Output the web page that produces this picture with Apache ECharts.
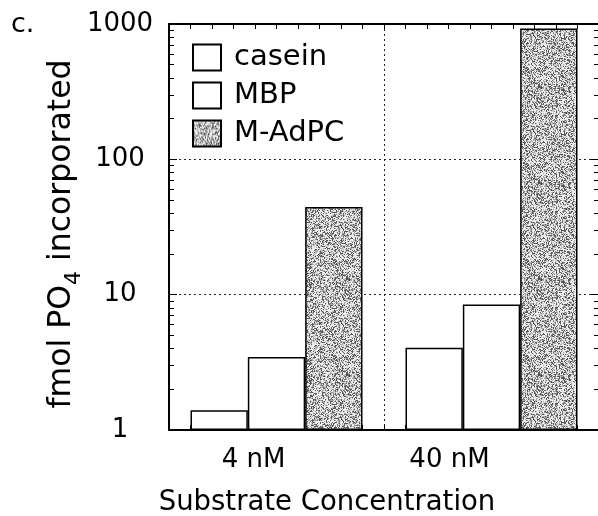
<!DOCTYPE html>
<html>
<head>
<meta charset="utf-8">
<script src="https://cdn.jsdelivr.net/npm/echarts@6/dist/echarts.min.js"></script>
<style>
html,body{margin:0;padding:0;background:#fff;}
#c{width:598px;height:516px;}
</style>
</head>
<body>
<div id="c"></div>
<script>
// ---- data ----
var categories = ['4 nM', '40 nM'];
var seriesNames = ['casein', 'MBP', 'M-AdPC'];
var caseinValues = [1.40, 4.05];
var mbpValues = [3.46, 8.47];
var madpcValues = [44.5, 926];
var yTickLabels = ['1', '10', '100', '1000'];

// ---- stipple texture (style only) ----
function makeStipple() {
  var cv = document.createElement('canvas');
  cv.width = 96; cv.height = 96;
  var ctx = cv.getContext('2d');
  var img = ctx.createImageData(96, 96);
  for (var i = 0; i < 96 * 96; i++) {
    var h = Math.sin(i * 12.9898 + 78.233) * 43758.5453;
    h = h - Math.floor(h);
    var v = h < 0.26 ? 90 : (h < 0.52 ? 170 : 235);
    img.data[i * 4] = v; img.data[i * 4 + 1] = v; img.data[i * 4 + 2] = v; img.data[i * 4 + 3] = 255;
  }
  ctx.putImageData(img, 0, 0);
  return cv;
}
var stipple = makeStipple();

var FONT = 'DejaVu Sans';
var labelOffsets = [46, 84];
var GL = 169, GT = 24, GW = 430, GH = 406;

var chart = echarts.init(document.getElementById('c'), null, {renderer: 'canvas'});

var barBase = {
  type: 'bar',
  xAxisIndex: 0,
  yAxisIndex: 0,
  barGap: '0%',
  barCategoryGap: '20%',
  z: 3
};

function g(left, top, width, height) {
  return {left: left, top: top, width: width, height: height, containLabel: false, outerBoundsMode: 'none'};
}
function hiddenAxis(gridIndex) {
  return {type: 'value', gridIndex: gridIndex, show: false, min: 0, max: 1, axisLine: {onZero: false}};
}
function tickX(gridIndex, position, lineW) {
  return {
    type: 'value', gridIndex: gridIndex, min: 0, max: 20, interval: 1, position: position,
    axisLine: {show: true, onZero: false, lineStyle: {color: '#000', width: lineW}},
    axisLabel: {show: false}, splitLine: {show: false},
    axisTick: {show: true, inside: false, length: 5, lineStyle: {color: '#000', width: 1}}
  };
}
function tickY(gridIndex, position) {
  return {
    type: 'log', logBase: 10, min: 1, max: 1000, gridIndex: gridIndex, position: position,
    axisLine: {show: false, onZero: false},
    axisTick: {show: true, inside: false, length: 8, lineStyle: {color: '#000', width: 1}},
    minorTick: {show: true, splitNumber: 9, length: 5, lineStyle: {color: '#000', width: 1}},
    splitLine: {show: false},
    axisLabel: {show: false}
  };
}

var option = {
  backgroundColor: '#fff',
  animation: false,
  title: {
    text: 'c.',
    left: 6,
    top: 6,
    textStyle: {fontFamily: FONT, fontSize: 27, fontWeight: 'normal', color: '#000'}
  },
  legend: {
    orient: 'vertical',
    left: 192,
    top: 43,
    padding: 0,
    itemWidth: 28,
    itemHeight: 26,
    itemGap: 9,
    icon: 'rect',
    data: seriesNames,
    textStyle: {fontFamily: FONT, fontSize: 29, color: '#000', padding: [0, 0, 0, 8]}
  },
  grid: [
    g(GL, GT, GW, GH),          // 0 main
    g(GL - 60, GT, 60, GH),     // 1 left inward ticks (axis on its right edge)
    g(GL + GW, GT, 60, GH),     // 2 right inward ticks (axis on its left edge)
    g(GL, GT + GH, GW, 40),     // 3 bottom inward ticks (axis on its top edge)
    g(GL, 0, GW, GT)            // 4 top inward ticks (axis on its bottom edge)
  ],
  xAxis: [
    {
      type: 'category',
      gridIndex: 0,
      data: categories,
      position: 'bottom',
      axisLine: {show: true, lineStyle: {color: '#000', width: 2}},
      axisTick: {show: false},
      splitLine: {show: true, lineStyle: {color: '#222', width: 1, type: [2, 3]}},
      axisLabel: {
        margin: 17,
        fontFamily: FONT,
        fontSize: 26,
        color: '#000',
        formatter: function (v, i) { return '{l' + i + '|' + v + '}'; },
        rich: {
          l0: {fontFamily: FONT, fontSize: 26, color: '#000', padding: [0, labelOffsets[0], 0, 0]},
          l1: {fontFamily: FONT, fontSize: 26, color: '#000', padding: [0, labelOffsets[1], 0, 0]}
        }
      },
      name: 'Substrate Concentration',
      nameLocation: 'middle',
      nameGap: 59,
      nameMoveOverlap: false,
      nameTextStyle: {fontFamily: FONT, fontSize: 27.5, color: '#000', padding: [0, 114, 0, 0]}
    },
    hiddenAxis(1),
    hiddenAxis(2),
    tickX(3, 'top', 0),
    tickX(4, 'bottom', 2)
  ],
  yAxis: [
    {
      type: 'log',
      gridIndex: 0,
      logBase: 10,
      min: 1,
      max: 1000,
      position: 'left',
      axisLine: {show: true, lineStyle: {color: '#000', width: 2}},
      axisTick: {show: false},
      minorTick: {show: false},
      splitLine: {show: true, lineStyle: {color: '#222', width: 1, type: [2, 3]}},
      axisLabel: {
        margin: 49,
        align: 'center',
        fontFamily: FONT,
        fontSize: 26,
        color: '#000',
        formatter: function (v) {
          var idx = Math.round(Math.log10(v));
          return yTickLabels[idx] !== undefined ? yTickLabels[idx] : '';
        }
      },
      name: '{a|fmol PO}{s|4}{a| incorporated}',
      nameLocation: 'middle',
      nameGap: 84,
      nameMoveOverlap: false,
      nameTextStyle: {
        fontFamily: FONT, fontSize: 31.5, color: '#000',
        padding: [0, 14, 0, 0],
        rich: {
          a: {fontFamily: FONT, fontSize: 31.5, color: '#000', lineHeight: 46, verticalAlign: 'middle'},
          s: {fontFamily: FONT, fontSize: 22, color: '#000', lineHeight: 20, verticalAlign: 'bottom'}
        }
      }
    },
    tickY(1, 'right'),
    tickY(2, 'left'),
    hiddenAxis(3),
    hiddenAxis(4)
  ],
  series: [
    Object.assign({}, barBase, {
      name: seriesNames[0], data: caseinValues,
      itemStyle: {color: '#fff', borderColor: '#000', borderWidth: 1.5}
    }),
    Object.assign({}, barBase, {
      name: seriesNames[1], data: mbpValues,
      itemStyle: {color: '#fff', borderColor: '#000', borderWidth: 1.5}
    }),
    Object.assign({}, barBase, {
      name: seriesNames[2], data: madpcValues,
      itemStyle: {color: {image: stipple, repeat: 'repeat'}, borderColor: '#000', borderWidth: 1.5}
    })
  ]
};
chart.setOption(option);
</script>
</body>
</html>
